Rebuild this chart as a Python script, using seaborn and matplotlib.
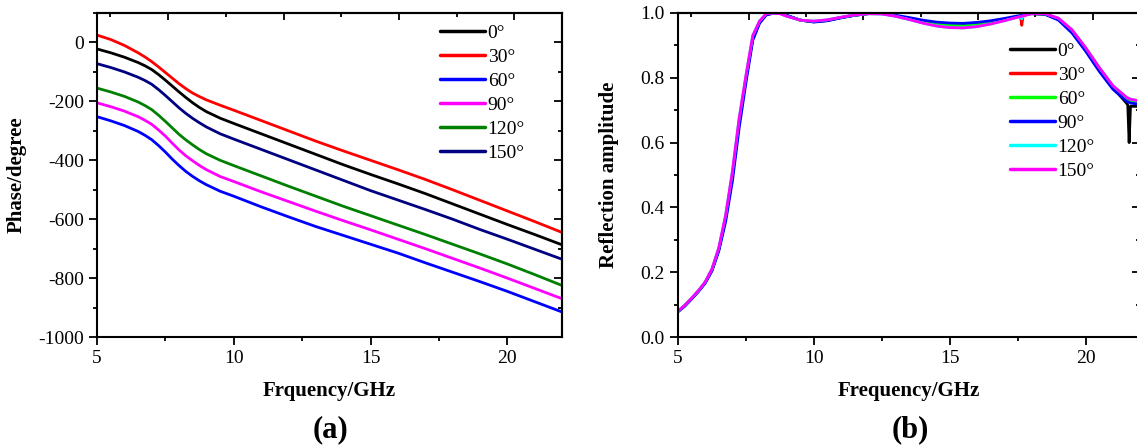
import numpy as np
import pandas as pd
import seaborn as sns
import matplotlib.pyplot as plt
from matplotlib.ticker import MultipleLocator, NullFormatter

sns.set_style("ticks")
plt.rcParams['font.family'] = ['Liberation Serif', 'DejaVu Serif']
plt.rcParams['axes.unicode_minus'] = False
plt.rcParams['axes.edgecolor'] = 'black'
plt.rcParams['text.color'] = 'black'
plt.rcParams['axes.labelcolor'] = 'black'
plt.rcParams['xtick.color'] = 'black'
plt.rcParams['ytick.color'] = 'black'

# ---- panel (a): phase vs frequency ----
phase_freq = [5, 5.5, 6, 6.5, 6.75, 7, 7.25, 7.5, 7.75, 8, 8.25, 8.5, 8.75, 9, 9.5, 10,
              11, 12, 13, 14, 15, 16, 17, 18, 19, 20, 21, 22]
phase_0 = [-22, -35, -50, -68, -79, -92, -109, -128, -148, -168, -187, -205, -221, -235, -257, -275,
           -310, -345, -380, -415, -448, -480, -513, -548, -583, -618, -652, -687]
phase_30 = [25, 10, -10, -35, -49, -65, -83, -102, -121, -140, -157, -172, -184, -195, -213, -230,
            -265, -300, -335, -368, -400, -432, -465, -500, -536, -572, -608, -645]
phase_60 = [-252, -266, -282, -302, -315, -330, -350, -372, -396, -418, -438, -455, -470, -483, -505, -522,
            -558, -592, -625, -655, -685, -715, -748, -780, -812, -845, -880, -915]
phase_90 = [-205, -218, -233, -252, -264, -278, -297, -318, -342, -365, -385, -402, -418, -432, -455, -472,
            -507, -540, -573, -605, -636, -668, -700, -733, -766, -800, -835, -870]
phase_120 = [-155, -168, -183, -202, -214, -228, -247, -268, -290, -312, -331, -348, -364, -378, -400, -418,
             -453, -488, -522, -556, -588, -620, -652, -685, -718, -752, -788, -825]
phase_150 = [-72, -85, -100, -118, -129, -142, -160, -180, -201, -222, -241, -258, -273, -287, -310, -328,
             -363, -398, -433, -468, -503, -535, -567, -600, -635, -668, -702, -736]

# ---- panel (b): reflection amplitude vs frequency ----
amp_freq = [5, 5.25, 5.5, 5.75, 6, 6.25, 6.5, 6.75, 7, 7.25,
            7.5, 7.75, 8, 8.25, 8.5, 8.75, 9, 9.5, 10, 10.5,
            11, 11.5, 12, 12.5, 13, 13.5, 14, 14.5, 15, 15.5,
            16, 16.5, 17, 17.5, 17.6, 17.65, 17.7, 18, 18.5, 19,
            19.5, 20, 20.5, 21, 21.5, 21.55, 21.6, 21.65, 22]
amp_0 = [0.079, 0.097, 0.119, 0.142, 0.168, 0.207, 0.27, 0.365, 0.495, 0.662,
         0.796, 0.922, 0.972, 0.996, 0.999, 0.999, 0.992, 0.978, 0.973, 0.977,
         0.986, 0.993, 0.998, 0.998, 0.992, 0.983, 0.974, 0.966, 0.962, 0.961,
         0.964, 0.971, 0.98, 0.989, 0.991, 0.992, 0.993, 0.998, 0.997, 0.981,
         0.943, 0.887, 0.826, 0.770, 0.722, 0.716, 0.60, 0.712, 0.712]
amp_30 = [0.079, 0.097, 0.119, 0.142, 0.168, 0.207, 0.27, 0.365, 0.495, 0.662,
          0.796, 0.922, 0.972, 0.996, 0.999, 0.999, 0.992, 0.978, 0.973, 0.977,
          0.986, 0.993, 0.998, 0.998, 0.992, 0.983, 0.974, 0.966, 0.962, 0.961,
          0.964, 0.971, 0.98, 0.989, 0.990, 0.962, 0.992, 0.998, 0.997, 0.982,
          0.945, 0.889, 0.828, 0.772, 0.734, 0.732, 0.730, 0.728, 0.724]
amp_60 = [0.079, 0.097, 0.119, 0.142, 0.168, 0.207, 0.27, 0.365, 0.495, 0.662,
          0.796, 0.922, 0.972, 0.996, 0.999, 0.999, 0.992, 0.978, 0.973, 0.977,
          0.986, 0.993, 0.998, 0.998, 0.992, 0.983, 0.974, 0.966, 0.962, 0.961,
          0.964, 0.971, 0.98, 0.989, 0.991, 0.992, 0.993, 0.998, 0.997, 0.981,
          0.943, 0.887, 0.826, 0.770, 0.732, 0.730, 0.728, 0.726, 0.722]
amp_90 = [0.078, 0.095, 0.117, 0.140, 0.166, 0.204, 0.265, 0.355, 0.48, 0.645,
          0.785, 0.915, 0.968, 0.994, 0.999, 0.999, 0.993, 0.978, 0.972, 0.976,
          0.985, 0.993, 0.998, 0.998, 0.993, 0.986, 0.978, 0.972, 0.969, 0.968,
          0.971, 0.976, 0.983, 0.991, 0.992, 0.993, 0.994, 0.998, 0.996, 0.978,
          0.938, 0.882, 0.82, 0.765, 0.728, 0.726, 0.724, 0.722, 0.718]
amp_120 = [0.080, 0.098, 0.12, 0.143, 0.17, 0.21, 0.275, 0.375, 0.51, 0.675,
           0.807, 0.93, 0.975, 0.998, 0.999, 0.998, 0.99, 0.978, 0.975, 0.979,
           0.987, 0.994, 0.998, 0.997, 0.99, 0.98, 0.969, 0.96, 0.955, 0.954,
           0.958, 0.966, 0.976, 0.987, 0.989, 0.982, 0.991, 0.998, 0.998, 0.984,
           0.948, 0.893, 0.832, 0.776, 0.740, 0.738, 0.736, 0.734, 0.728]
amp_150 = [0.080, 0.098, 0.12, 0.143, 0.17, 0.21, 0.275, 0.375, 0.51, 0.675,
           0.807, 0.93, 0.975, 0.998, 0.999, 0.998, 0.99, 0.978, 0.975, 0.979,
           0.987, 0.994, 0.998, 0.997, 0.99, 0.98, 0.969, 0.96, 0.955, 0.954,
           0.958, 0.966, 0.976, 0.987, 0.989, 0.990, 0.991, 0.998, 0.998, 0.984,
           0.948, 0.893, 0.832, 0.776, 0.740, 0.738, 0.736, 0.734, 0.728]

angles = ['0°', '30°', '60°', '90°', '120°', '150°']
phase_colors = ['black', '#ff0000', '#0000ff', '#ff00ff', '#008000', '#000080']
amp_colors = ['black', '#ff0000', '#00ff00', '#0000ff', '#00ffff', '#ff00ff']

phase_series = [phase_0, phase_30, phase_60, phase_90, phase_120, phase_150]
amp_series = [amp_0, amp_30, amp_60, amp_90, amp_120, amp_150]

df_phase = pd.concat([pd.DataFrame({'freq': phase_freq, 'val': v, 'angle': a})
                      for a, v in zip(angles, phase_series)], ignore_index=True)
df_amp = pd.concat([pd.DataFrame({'freq': amp_freq, 'val': v, 'angle': a})
                    for a, v in zip(angles, amp_series)], ignore_index=True)

fig = plt.figure(figsize=(11.37, 4.46), dpi=100)
ax1 = fig.add_axes([97 / 1137, 1 - 337 / 446, 465 / 1137, 324 / 446])
ax2 = fig.add_axes([678 / 1137, 1 - 337 / 446, 462 / 1137, 324 / 446])

sns.lineplot(data=df_phase, x='freq', y='val', hue='angle', hue_order=angles,
             palette=dict(zip(angles, phase_colors)), linewidth=2.0, ax=ax1)
sns.lineplot(data=df_amp, x='freq', y='val', hue='angle', hue_order=angles,
             palette=dict(zip(angles, amp_colors)), linewidth=2.0, ax=ax2)

ax1.set_xlim(5, 22)
ax1.set_ylim(-1000, 100)
ax2.set_xlim(5, 22)
ax2.set_ylim(0, 1.0)
ax2.yaxis.set_major_formatter(plt.FormatStrFormatter('%.1f'))

# top axis in the original has its own (unlabelled) tick spacing
top_fwd = lambda f: (f - 7.6) / 4.22
top_inv = lambda t: t * 4.22 + 7.6

for ax, ymaj, ymin in ((ax1, 200, 100), (ax2, 0.2, 0.1)):
    ax.xaxis.set_major_locator(MultipleLocator(5))
    ax.xaxis.set_minor_locator(MultipleLocator(2.5))
    ax.yaxis.set_major_locator(MultipleLocator(ymaj))
    ax.yaxis.set_minor_locator(MultipleLocator(ymin))
    ax.tick_params(which='both', direction='out', labelsize=14, width=1.3, colors='black')
    ax.tick_params(which='major', length=6)
    ax.tick_params(which='minor', length=3)
    for s in ax.spines.values():
        s.set_linewidth(1.5)
        s.set_color('black')

    right = ax.secondary_yaxis('right')
    right.yaxis.set_major_locator(MultipleLocator(ymaj))
    right.yaxis.set_minor_locator(MultipleLocator(ymin))
    right.yaxis.set_major_formatter(NullFormatter())
    right.tick_params(which='both', direction='in', width=1.3, colors='black')
    right.tick_params(which='major', length=6)
    right.tick_params(which='minor', length=3)
    right.spines['right'].set_linewidth(1.5)

    top = ax.secondary_xaxis('top', functions=(top_fwd, top_inv))
    top.xaxis.set_major_locator(MultipleLocator(1))
    top.xaxis.set_minor_locator(MultipleLocator(0.5))
    top.xaxis.set_major_formatter(NullFormatter())
    top.tick_params(which='both', direction='in', width=1.3, colors='black')
    top.tick_params(which='major', length=5)
    top.tick_params(which='minor', length=3)
    top.spines['top'].set_linewidth(1.5)

ax1.set_xlabel('Frquency/GHz', fontsize=15, fontweight='bold')
ax1.set_ylabel('Phase/degree', fontsize=15, fontweight='bold')
ax2.set_xlabel('Frequency/GHz', fontsize=15, fontweight='bold')
ax2.set_ylabel('Reflection amplitude', fontsize=15, fontweight='bold')
ax1.xaxis.set_label_coords(0.5, -0.135)
ax2.xaxis.set_label_coords(0.5, -0.135)
ax1.yaxis.set_label_coords(-0.152, 0.5)
ax2.yaxis.set_label_coords(-0.128, 0.5)

# legends without frame
for ax, anchor in ((ax1, (440 / 1137, 1 - 24 / 446)), (ax2, (1010 / 1137, 1 - 42 / 446))):
    handles, labels = ax.get_legend_handles_labels()
    ax.legend(handles, labels, loc='upper left', bbox_to_anchor=anchor,
              bbox_transform=fig.transFigure, frameon=False, fontsize=14,
              handlelength=2.3, handletextpad=0.15, labelspacing=0.33,
              borderpad=0, borderaxespad=0)
    for line in ax.get_legend().get_lines():
        line.set_linewidth(2.5)

fig.text(330 / 1137, 1 - 430 / 446, '(a)', fontsize=22, fontweight='bold', ha='center', va='center')
fig.text(910 / 1137, 1 - 430 / 446, '(b)', fontsize=22, fontweight='bold', ha='center', va='center')

fig.savefig('out.png', dpi=100)
